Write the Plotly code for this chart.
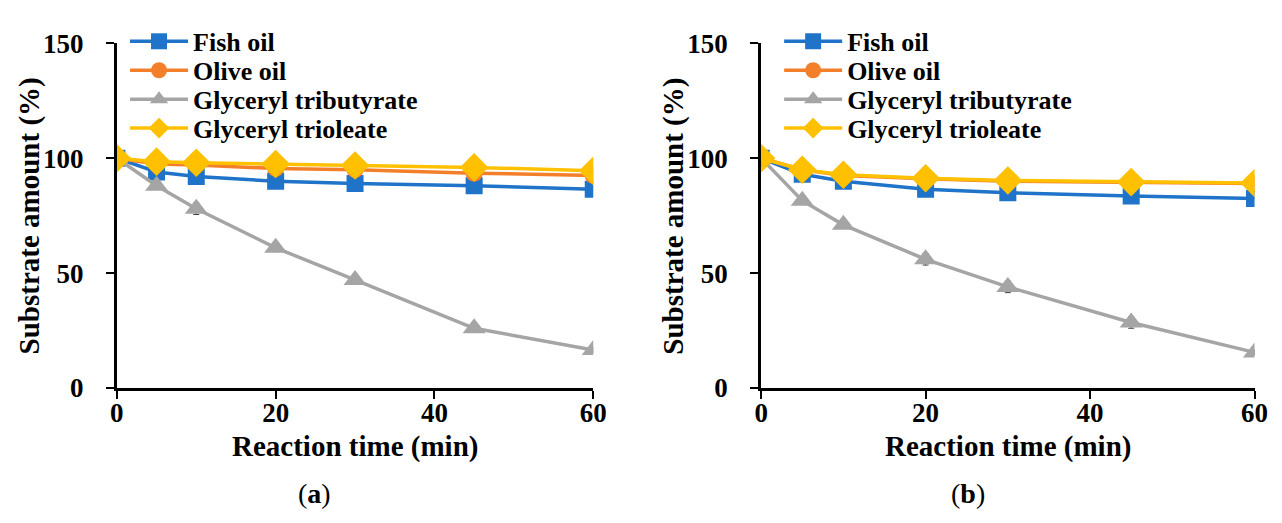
import plotly.graph_objects as go

# ---------------- data ----------------
time_min = [0, 5, 10, 20, 30, 45, 60]
series_names = ["Fish oil", "Olive oil", "Glyceryl tributyrate", "Glyceryl trioleate"]

# panel (a)
a_fish = [100, 94, 92, 90, 89, 88, 86.5]
a_olive = [100, 97.5, 97, 95.5, 95, 93.5, 92.5]
a_tributyrate = [100, 88, 78, 61, 47, 26, 16.5]
a_trioleate = [100, 98.5, 98, 97.5, 96.8, 96, 94.5]
a_tributyrate_err = [0, 1.5, 2.5, 1.5, 1.5, 1.5, 1.0]

# panel (b)
b_fish = [100, 93, 90, 86.5, 85, 83.5, 82.5]
b_olive = [100, 95, 92.5, 91, 90, 89.5, 89]
b_tributyrate = [100, 81.5, 71, 56, 44, 28.5, 15.5]
b_trioleate = [100, 95, 92.8, 91.3, 90.3, 89.6, 89.2]
b_tributyrate_err = [0, 1.5, 1.5, 2.5, 2.5, 2.5, 1.0]

x_ticks = [0, 20, 40, 60]
y_ticks = [0, 50, 100, 150]
x_title = "Reaction time (min)"
y_title = "Substrate amount (%)"
panel_labels = ["a", "b"]

# ---------------- styles ----------------
colors = ["#1F73C9", "#F47F2A", "#A5A5A5", "#FFC000"]
symbols = ["square", "circle", "triangle-up", "diamond"]
msizes = [17, 17, 20, 22]
FONT = "Liberation Serif"
TICK_SIZE = 27
TITLE_SIZE = 29
LEG_SIZE = 26

W, H = 1282, 523
def px_x(p):
    return p / W
def px_y(p):
    return 1 - p / H

fig = go.Figure()

legend_rows_px = [28, 58.7, 89.4, 120.1]
panels = [
    (dict(xaxis="x", yaxis="y"), [a_fish, a_olive, a_tributyrate, a_trioleate],
     a_tributyrate_err, 1, 120),
    (dict(xaxis="x2", yaxis="y2"), [b_fish, b_olive, b_tributyrate, b_trioleate],
     b_tributyrate_err, 5, 785),
]

legend_layouts = {}
for axes, data, err, leg0, legx in panels:
    for i, (name, vals) in enumerate(zip(series_names, data)):
        lid = "legend" if leg0 + i == 1 else "legend%d" % (leg0 + i)
        tr = dict(
            x=time_min, y=vals, name=name, mode="lines+markers",
            line=dict(color=colors[i], width=3.5),
            marker=dict(symbol=symbols[i], size=msizes[i], color=colors[i],
                        line=dict(width=0)),
            legend=lid,
            **axes,
        )
        if i == 2:
            tr["error_y"] = dict(type="data", array=err, visible=True,
                                 color="#404040", thickness=1, width=3)
        fig.add_trace(go.Scatter(**tr))
        legend_layouts[lid] = dict(
            x=px_x(legx), y=px_y(legend_rows_px[i]), xanchor="left",
            yanchor="middle", bgcolor="rgba(0,0,0,0)", itemwidth=58,
            borderwidth=0,
            font=dict(family=FONT, size=LEG_SIZE, color="black", weight="bold"))

axis_common = dict(
    showgrid=False, zeroline=False, showline=True, linecolor="black",
    linewidth=3, ticks="outside", ticklen=8, tickwidth=2, tickcolor="black",
    tickfont=dict(family=FONT, size=TICK_SIZE, color="black", weight="bold"),
)

left_dom = [px_x(111.7), px_x(596)]
right_dom = [px_x(766.7), px_x(1268.3)]
y_dom = [px_y(395.7), px_y(30)]

fig.update_layout(
    width=W, height=H,
    margin=dict(l=0, r=0, t=0, b=0),
    paper_bgcolor="white", plot_bgcolor="white",
    font=dict(family=FONT, color="black"),
    xaxis=dict(domain=left_dom, range=[0, 60], tickvals=x_ticks,
               ticklabelstandoff=-9, anchor="y", **axis_common),
    yaxis=dict(domain=y_dom, range=[0, 150], tickvals=y_ticks,
               ticklabelstandoff=17, anchor="x", **axis_common),
    xaxis2=dict(domain=right_dom, range=[0, 60], tickvals=x_ticks,
                ticklabelstandoff=-9, anchor="y2", **axis_common),
    yaxis2=dict(domain=y_dom, range=[0, 150], tickvals=y_ticks,
                ticklabelstandoff=17, anchor="x2", **axis_common),
    showlegend=True,
    **legend_layouts,
)

annos = []
for xc, yc_title, lab, labx in [
    ((111.7 + 596) / 2, 23, panel_labels[0], 313),
    ((766.7 + 1268.3) / 2, 678, panel_labels[1], 977),
]:
    annos.append(dict(text="<b>%s</b>" % x_title, x=px_x(xc), y=px_y(458),
                      xref="paper", yref="paper", showarrow=False,
                      xanchor="center", yanchor="middle",
                      font=dict(family=FONT, size=TITLE_SIZE, color="black")))
    annos.append(dict(text="<b>%s</b>" % y_title, x=px_x(yc_title), y=px_y(213),
                      xref="paper", yref="paper", showarrow=False, textangle=-90,
                      xanchor="center", yanchor="middle",
                      font=dict(family=FONT, size=TITLE_SIZE, color="black")))
    annos.append(dict(text="(<b>%s</b>)" % lab, x=px_x(labx), y=px_y(508),
                      xref="paper", yref="paper", showarrow=False,
                      xanchor="center", yanchor="middle",
                      font=dict(family=FONT, size=28, color="black")))
fig.update_layout(annotations=annos)

fig.write_html("out.html")
